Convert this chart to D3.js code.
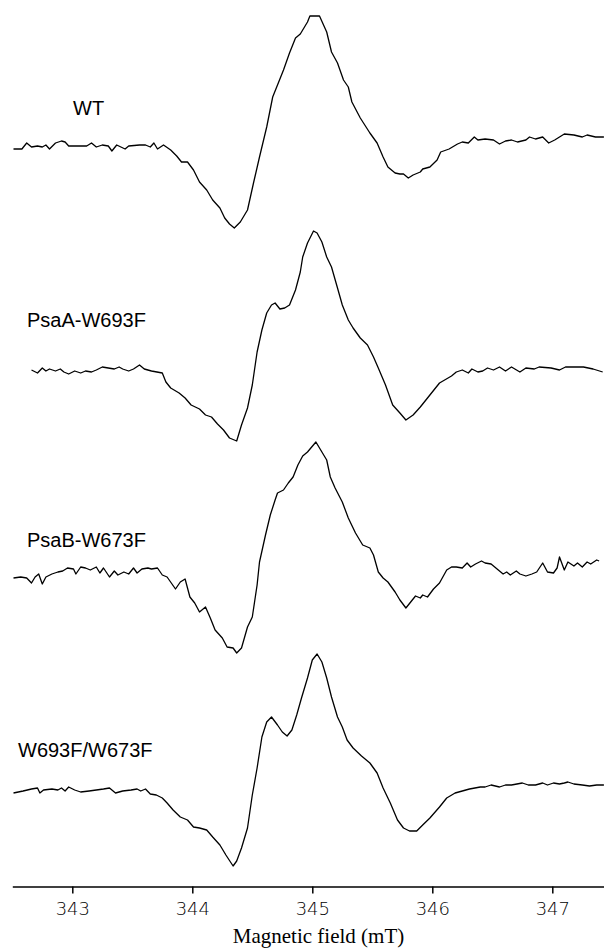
<!DOCTYPE html>
<html>
<head>
<meta charset="utf-8">
<script src="https://cdn.jsdelivr.net/npm/d3@7"></script>
<style>
  html, body { margin: 0; padding: 0; background: #fff; }
  svg { display: block; }
</style>
</head>
<body>
<svg id="chart" width="604" height="948"></svg>
<script>
// ---- Data: EPR spectra, [magnetic field (mT), signal (a.u.)] ----
const traceNames = ["WT", "PsaA-W693F", "PsaB-W673F", "W693F/W673F"];
const fieldTicks = [343, 344, 345, 346, 347];

const wtSpectrum = [
  [342.51,-3],[342.58,-3],[342.62,3],[342.66,-1],[342.71,0],[342.75,-1],[342.78,1],[342.81,-3],[342.86,3],[342.91,5],
  [342.94,4],[342.97,0],[343.04,0],[343.12,0],[343.16,3],[343.20,-1],[343.25,1],[343.30,0],[343.33,-5],[343.37,1],
  [343.44,-3],[343.47,0],[343.56,1],[343.61,1],[343.65,-1],[343.68,3],[343.71,-3],[343.76,1],[343.82,-4],[343.87,-10],
  [343.91,-16],[343.96,-16],[344.01,-24],[344.06,-36],[344.12,-44],[344.17,-54],[344.23,-62],[344.27,-72],[344.31,-78],[344.35,-82],
  [344.40,-76],[344.46,-64],[344.51,-37],[344.56,-11],[344.62,19],[344.67,49],[344.71,61],[344.76,76],[344.81,93],[344.86,108],
  [344.90,112],[344.96,124],[344.98,130],[345.06,130],[345.12,114],[345.16,94],[345.21,83],[345.26,66],[345.30,59],[345.33,44],
  [345.40,28],[345.48,13],[345.54,3],[345.59,-11],[345.63,-21],[345.69,-27],[345.73,-28],[345.76,-28],[345.80,-32],[345.84,-29],
  [345.90,-26],[345.92,-23],[345.98,-21],[346.04,-14],[346.07,-6],[346.14,-3],[346.21,2],[346.25,4],[346.30,3],[346.35,9],
  [346.38,6],[346.44,7],[346.51,6],[346.56,2],[346.61,5],[346.66,6],[346.71,4],[346.78,6],[346.81,9],[346.86,7],
  [346.92,9],[346.97,3],[347.02,6],[347.10,12],[347.18,11],[347.25,9],[347.29,11],[347.36,9],[347.43,9]
];

const psaASpectrum = [
  [342.66,-1],[342.71,-4],[342.75,1],[342.78,-2],[342.81,0],[342.86,-2],[342.90,0],[342.93,-3],[342.97,-5],[343.02,-2],
  [343.07,-4],[343.11,-2],[343.16,-3],[343.20,-1],[343.25,2],[343.30,1],[343.35,0],[343.39,2],[343.42,0],[343.47,-2],
  [343.51,0],[343.56,4],[343.60,0],[343.66,-2],[343.75,-4],[343.78,-13],[343.82,-19],[343.89,-24],[343.94,-29],[343.99,-36],
  [344.06,-40],[344.11,-46],[344.16,-48],[344.21,-55],[344.26,-61],[344.31,-69],[344.37,-72],[344.41,-56],[344.46,-39],[344.50,-16],
  [344.54,17],[344.58,39],[344.62,56],[344.66,64],[344.69,66],[344.73,60],[344.77,61],[344.81,64],[344.86,79],[344.90,97],
  [344.92,112],[344.96,126],[345.01,138],[345.04,136],[345.08,127],[345.12,112],[345.16,102],[345.21,81],[345.25,64],[345.30,49],
  [345.34,41],[345.40,31],[345.46,24],[345.51,12],[345.55,1],[345.61,-16],[345.67,-36],[345.73,-44],[345.78,-51],[345.84,-46],
  [345.90,-38],[345.96,-29],[346.06,-14],[346.16,-7],[346.20,-3],[346.25,-1],[346.30,-4],[346.33,0],[346.38,-3],[346.42,-2],
  [346.46,1],[346.51,-1],[346.56,2],[346.61,-2],[346.66,2],[346.73,-3],[346.78,1],[346.85,0],[346.89,2],[346.99,1],
  [347.06,-1],[347.11,2],[347.18,2],[347.26,2],[347.34,0],[347.42,-3]
];

const psaBSpectrum = [
  [342.51,-7],[342.57,-6],[342.62,-7],[342.66,-12],[342.69,-6],[342.72,-3],[342.75,-13],[342.78,-6],[342.83,-3],[342.88,-1],
  [342.92,0],[342.96,3],[343.01,2],[343.03,-3],[343.07,4],[343.11,3],[343.15,1],[343.20,4],[343.23,-2],[343.26,3],
  [343.31,-6],[343.35,0],[343.38,-4],[343.43,-1],[343.47,-3],[343.51,3],[343.54,-2],[343.58,2],[343.63,3],[343.66,2],
  [343.71,3],[343.75,-4],[343.79,-6],[343.86,-18],[343.90,-11],[343.94,-8],[343.98,-26],[344.02,-32],[344.06,-41],[344.11,-36],
  [344.15,-47],[344.19,-59],[344.25,-67],[344.29,-76],[344.34,-77],[344.37,-82],[344.41,-77],[344.46,-56],[344.50,-46],[344.54,-14],
  [344.56,9],[344.61,36],[344.65,56],[344.69,71],[344.71,78],[344.76,81],[344.80,88],[344.84,94],[344.88,106],[344.92,115],
  [344.96,119],[345.03,129],[345.08,119],[345.12,111],[345.15,94],[345.19,83],[345.25,69],[345.30,53],[345.36,38],[345.42,26],
  [345.48,23],[345.51,16],[345.55,-1],[345.59,-7],[345.63,-11],[345.69,-21],[345.73,-29],[345.78,-37],[345.82,-31],[345.86,-25],
  [345.90,-27],[345.92,-24],[345.96,-26],[346.01,-18],[346.06,-12],[346.12,1],[346.16,4],[346.20,4],[346.25,3],[346.29,8],
  [346.32,4],[346.36,7],[346.41,10],[346.44,8],[346.49,7],[346.54,2],[346.59,-3],[346.62,-1],[346.65,-4],[346.70,0],
  [346.73,-3],[346.78,-5],[346.83,-3],[346.87,-1],[346.92,8],[346.96,-1],[347.01,-2],[347.04,3],[347.06,14],[347.10,1],
  [347.13,9],[347.18,5],[347.21,8],[347.25,4],[347.29,9],[347.32,7],[347.37,11],[347.39,10]
];

const doubleSpectrum = [
  [342.51,-3],[342.59,-1],[342.66,1],[342.71,2],[342.73,-3],[342.76,0],[342.83,1],[342.88,0],[342.91,2],[342.94,-1],
  [342.97,3],[343.02,0],[343.07,-2],[343.14,-1],[343.20,0],[343.26,1],[343.31,2],[343.36,-3],[343.42,-1],[343.49,0],
  [343.54,1],[343.57,-1],[343.61,1],[343.65,-4],[343.70,-5],[343.75,-8],[343.79,-13],[343.84,-20],[343.90,-27],[343.96,-30],
  [344.01,-37],[344.06,-38],[344.12,-40],[344.17,-47],[344.23,-55],[344.28,-65],[344.34,-76],[344.37,-71],[344.41,-58],[344.46,-38],
  [344.50,-5],[344.54,22],[344.58,53],[344.62,68],[344.66,73],[344.71,65],[344.75,58],[344.79,54],[344.83,60],[344.87,75],
  [344.91,92],[344.96,112],[345.00,130],[345.04,136],[345.08,128],[345.12,112],[345.16,93],[345.21,73],[345.25,63],[345.29,50],
  [345.34,42],[345.41,34],[345.48,27],[345.54,17],[345.59,2],[345.65,-13],[345.71,-30],[345.76,-38],[345.81,-41],[345.87,-41],
  [345.92,-35],[345.98,-28],[346.06,-17],[346.12,-8],[346.19,-3],[346.25,-1],[346.31,1],[346.40,3],[346.44,3],[346.49,5],
  [346.56,3],[346.61,5],[346.66,5],[346.75,7],[346.80,5],[346.86,5],[346.92,7],[346.96,5],[347.01,7],[347.06,6],
  [347.10,7],[347.13,8],[347.18,6],[347.25,5],[347.31,4],[347.37,5],[347.43,5]
];

const spectra = [wtSpectrum, psaASpectrum, psaBSpectrum, doubleSpectrum];

// ---- Layout ----
const svg = d3.select("#chart");
const axisY = 886.5;
const baselines = [146, 369, 571, 790];        // vertical offset of each trace's zero line
const labelPos = [[73, 115], [27, 327], [27, 547], [18, 757]];

const x = d3.scaleLinear().domain([342.5, 347.43]).range([12.3, 603.9]);
const y = d3.scaleLinear().domain([0, 100]).range([0, -100]);

const line = d3.line()
  .x(d => x(d[0]))
  .y(d => y(d[1]));

spectra.forEach((data, i) => {
  const g = svg.append("g").attr("transform", `translate(0,${baselines[i]})`);
  g.append("path")
    .datum(data)
    .attr("fill", "none")
    .attr("stroke", "#000")
    .attr("stroke-width", 1.3)
    .attr("stroke-linejoin", "round")
    .attr("d", line);
  svg.append("text")
    .attr("x", labelPos[i][0])
    .attr("y", labelPos[i][1])
    .attr("font-family", "'Liberation Sans', Arial, sans-serif")
    .attr("font-size", 20)
    .attr("fill", "#000")
    .text(traceNames[i]);
});

// ---- Axis ----
const axis = d3.axisBottom(x)
  .tickValues(fieldTicks)
  .tickFormat(d3.format("d"))
  .tickSizeInner(7)
  .tickSizeOuter(0)
  .tickPadding(9);

const ax = svg.append("g")
  .attr("transform", `translate(0,${axisY})`)
  .call(axis);
ax.select(".domain").attr("stroke", "#000").attr("stroke-width", 1.5);
ax.selectAll(".tick line").attr("stroke", "#000").attr("stroke-width", 1.5);
ax.selectAll(".tick text")
  .attr("fill", "#000")
  .attr("font-family", "'DejaVu Sans', sans-serif")
  .attr("font-weight", 200)
  .attr("font-size", 18);

svg.append("text")
  .attr("x", 318.5)
  .attr("y", 943)
  .attr("text-anchor", "middle")
  .attr("font-family", "'Liberation Serif', 'Times New Roman', serif")
  .attr("font-size", 21)
  .attr("fill", "#000")
  .text("Magnetic field (mT)");
</script>
</body>
</html>
